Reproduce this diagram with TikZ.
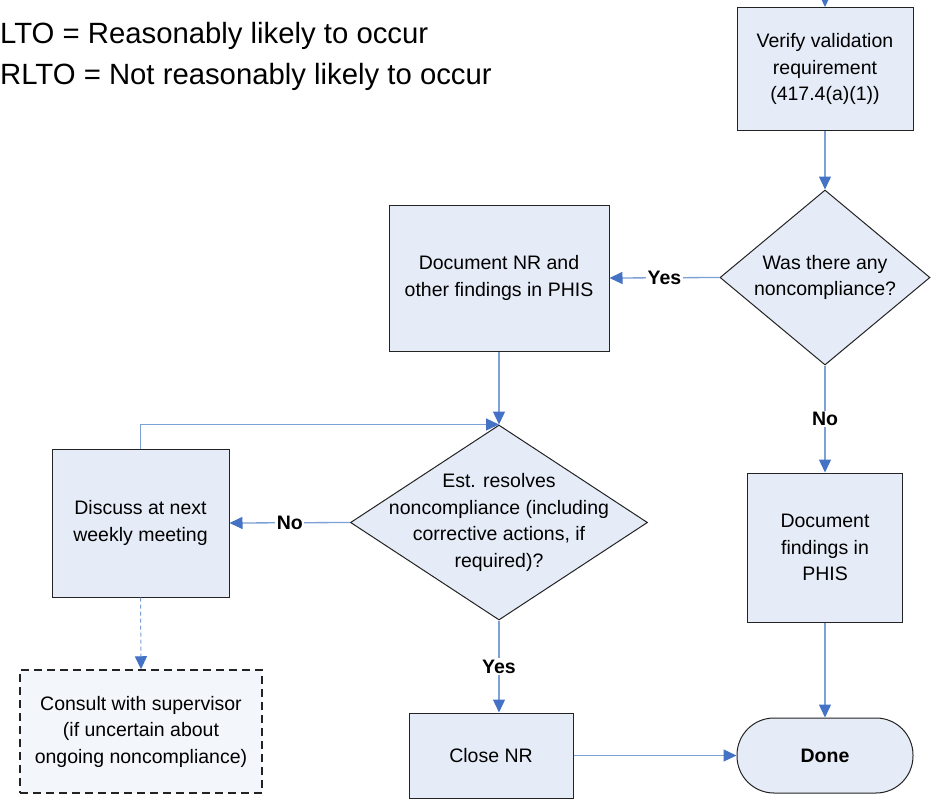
\documentclass[tikz,border=0pt]{standalone}
\usepackage{fontspec}
\setmainfont{Liberation Sans}
\usetikzlibrary{arrows.meta,shapes.geometric}
\definecolor{boxfill}{RGB}{230,236,247}
\definecolor{boxfilllight}{RGB}{243,246,251}
\definecolor{linecol}{RGB}{125,160,214}
\definecolor{tipcol}{RGB}{68,114,196}
\definecolor{edgecol}{RGB}{35,35,35}
\begin{document}
\begin{tikzpicture}[x=1pt,y=-1pt,
  every node/.style={font=\fontsize{19.5}{26.5}\selectfont, align=center, inner sep=0pt},
  procbox/.style={draw=edgecol, line width=1pt, fill=boxfill},
  decision/.style={diamond, draw=edgecol, line width=1pt, fill=boxfill, aspect=1},
  conn/.style={draw=linecol, line width=1.3pt, -{Triangle[length=13pt,width=12pt,color=tipcol]}},
  edgelabel/.style={fill=white, font=\fontsize{19.5}{26}\selectfont\bfseries, inner sep=1.5pt},
  titletext/.style={anchor=base west, font=\fontsize{29.3}{35}\selectfont}
]
\useasboundingbox (0,0) rectangle (940,804);
\fill[white] (0,0) rectangle (940,804);

\node[titletext] (t1) at (0,43) {LTO = Reasonably likely to occur};
\node[titletext] (t2) at (0,84) {RLTO = Not reasonably likely to occur};

\node[procbox, minimum width=176, minimum height=123] (verify) at (825,69) {Verify validation\\requirement\\(417.4(a)(1))};
\node[decision, minimum width=210, minimum height=175,
  label={center:{Was there any\\noncompliance?}}] (d1) at (825,277.5) {};
\node[procbox, minimum width=220, minimum height=146] (docnr) at (499,278) {Document NR and\\other findings in PHIS};
\node[procbox, minimum width=155, minimum height=149] (docf) at (825,547.5) {Document\\findings in\\PHIS};
\node[procbox, rounded corners=37pt, minimum width=176, minimum height=75] (done) at (825,755.5) {\bfseries Done};
\node[procbox, minimum width=164, minimum height=85] (close) at (491,755.5) {Close NR};
\node[decision, minimum width=297, minimum height=195,
  label={center:{Est. resolves\\noncompliance (including\\corrective actions, if\\required)?}}] (d2) at (499,522.5) {};
\node[procbox, minimum width=177, minimum height=148] (discuss) at (140.5,523) {Discuss at next\\weekly meeting};
\node[procbox, fill=boxfilllight, dash pattern=on 8pt off 5pt, line width=1.5pt,
  minimum width=242, minimum height=123] (consult) at (141,731.5) {Consult with supervisor\\(if uncertain about\\ongoing noncompliance)};

\coordinate (topin) at (825,-5);
\draw[conn] (topin) -- (verify.north);
\draw[conn] (verify.south) -- (d1.north);
\draw[conn] (d1.west) -- node[edgelabel]{Yes} (docnr.east);
\draw[conn] (d1.south) -- node[edgelabel]{No} (docf.north);
\draw[conn] (docf.south) -- (done.north);
\draw[conn] (close.east) -- (done.west);
\draw[conn] (docnr.south) -- (d2.north);
\draw[conn] (d2.west) -- node[edgelabel]{No} (discuss.east);
\draw[conn] (d2.south) -- node[edgelabel]{Yes} (d2.south |- close.north);
\draw[conn] (discuss.north) |- (d2.north);
\draw[conn, line width=1pt, dash pattern=on 4pt off 3pt] (discuss.south) -- (consult.north);
\end{tikzpicture}
\end{document}
